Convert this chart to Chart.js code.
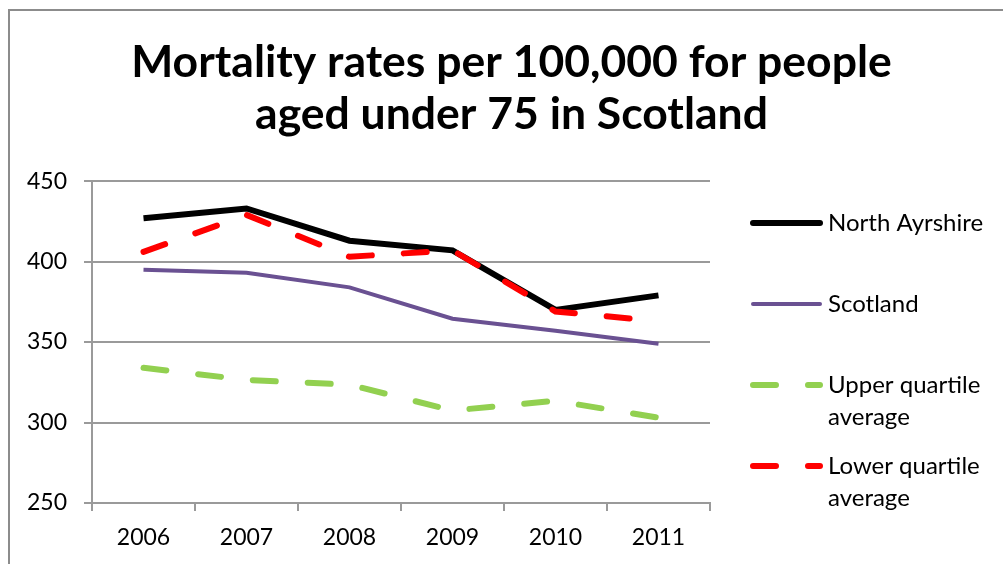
<!DOCTYPE html>
<html>
<head>
<meta charset="utf-8">
<title>Mortality rates per 100,000 – under 75 – Scotland</title>
<script src="https://cdn.jsdelivr.net/npm/chart.js@4.4.1/dist/chart.umd.min.js"></script>
<style>
  html, body { margin: 0; padding: 0; background: #fff; }
  #wrap { width: 1003px; height: 564px; }
</style>
</head>
<body>
<div id="wrap"><canvas id="mortalityChart" width="1003" height="564"></canvas></div>
<script>
// data
const years = ['2006', '2007', '2008', '2009', '2010', '2011'];
const northAyrshire = [427, 433, 413, 407, 370, 379];
const scotland = [395, 393, 384, 364.5, 357, 349];
const upperQuartile = [334, 326.5, 323.5, 307.5, 313.5, 303];
const lowerQuartile = [406, 429, 403, 407, 369, 363];
const legendText = [['North Ayrshire'], ['Scotland'], ['Upper quartile', 'average'], ['Lower quartile', 'average']];
const yMin = 250, yMax = 450, yStep = 50;
const titleLines = ['Mortality rates per 100,000 for people', 'aged under 75 in Scotland'];

const GRID = '#9a9a9a';
const FONT = 'Lato';

// grey frame round the whole chart
const framePlugin = {
  id: 'frame',
  beforeDraw(chart) {
    const ctx = chart.ctx;
    ctx.save();
    ctx.strokeStyle = '#8c8c8c';
    ctx.lineWidth = 2;
    ctx.beginPath();
    ctx.moveTo(9, chart.height + 5);
    ctx.lineTo(9, 10);
    ctx.lineTo(chart.width + 5, 10);
    ctx.stroke();
    ctx.restore();
  }
};

// legend on the right, wrapped labels
const sideLegend = {
  id: 'sideLegend',
  afterDraw(chart, args, opts) {
    const ctx = chart.ctx;
    ctx.save();
    ctx.font = opts.size + 'px ' + FONT;
    ctx.textBaseline = 'middle';
    ctx.fillStyle = '#000';
    chart.data.datasets.forEach((ds, i) => {
      const y = opts.top + i * opts.rowGap;
      ctx.strokeStyle = ds.borderColor;
      ctx.lineWidth = ds.borderWidth;
      ctx.lineCap = 'round';
      ctx.setLineDash(ds.borderDash || []);
      ctx.beginPath();
      ctx.moveTo(opts.x0, y);
      ctx.lineTo(opts.x1, y);
      ctx.stroke();
      ctx.setLineDash([]);
      legendText[i].forEach((line, j) => {
        ctx.fillText(line, opts.textX, y + j * opts.lineGap);
      });
    });
    ctx.restore();
  }
};

const ctx = document.getElementById('mortalityChart').getContext('2d');
new Chart(ctx, {
  type: 'line',
  data: {
    labels: years,
    datasets: [
      { label: 'North Ayrshire', data: northAyrshire, borderColor: '#000000', borderWidth: 6, order: 1 },
      { label: 'Scotland', data: scotland, borderColor: '#6a5192', borderWidth: 4, order: 2 },
      { label: 'Upper quartile average', data: upperQuartile, borderColor: '#92d050', borderWidth: 6,
        borderDash: [23, 32], borderCapStyle: 'round', order: 3 },
      { label: 'Lower quartile average', data: lowerQuartile, borderColor: '#ff0000', borderWidth: 6,
        borderDash: [23, 32], borderCapStyle: 'round', order: 0 }
    ]
  },
  options: {
    responsive: false,
    animation: false,
    layout: { padding: { left: 20, right: 0, top: 0, bottom: 0 } },
    elements: { point: { radius: 0, hoverRadius: 0 }, line: { tension: 0, fill: false } },
    plugins: {
      legend: { display: false },
      tooltip: { enabled: false },
      title: {
        display: true,
        text: titleLines,
        color: '#000',
        font: { family: FONT, weight: 'bold', size: 44.5, lineHeight: 1.17 },
        padding: { top: 37, bottom: 40 }
      },
      sideLegend: { x0: 753, x1: 820, textX: 828, top: 223, rowGap: 81, lineGap: 32, size: 24 }
    },
    scales: {
      x: {
        offset: true,
        grid: { drawOnChartArea: false, drawTicks: true, tickLength: 8, color: GRID, lineWidth: 2, offset: true },
        border: { color: GRID, width: 2 },
        ticks: { color: '#000', font: { family: FONT, size: 23 }, padding: 13, maxRotation: 0 },
        afterFit(scale) { scale.height = 61; }
      },
      y: {
        min: yMin,
        max: yMax,
        ticks: { stepSize: yStep, color: '#000', font: { family: FONT, size: 23 }, padding: 17 },
        grid: { color: GRID, lineWidth: 2, tickLength: 8 },
        border: { color: GRID, width: 2 },
        afterFit(scale) { scale.width = 72; }
      },
      // empty right-hand scale that keeps room for the legend
      legendRoom: {
        type: 'linear',
        position: 'right',
        grid: { display: false, drawTicks: false },
        border: { display: false },
        ticks: { display: false },
        afterFit(scale) { scale.width = 293; }
      }
    }
  },
  plugins: [framePlugin, sideLegend]
});
</script>
</body>
</html>
